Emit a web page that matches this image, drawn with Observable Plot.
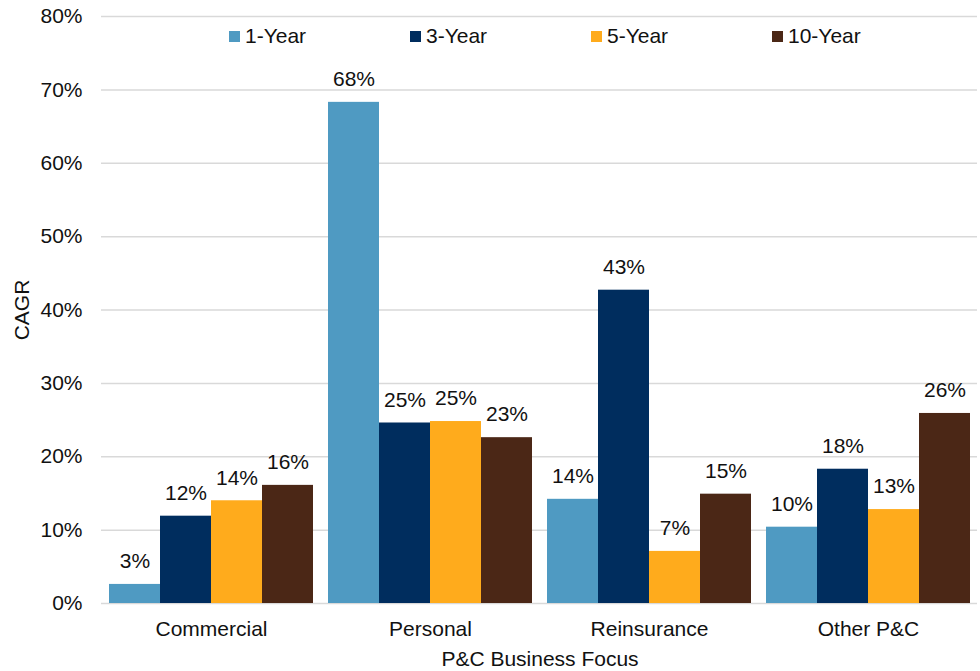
<!DOCTYPE html>
<html><head><meta charset="utf-8">
<script src="https://cdn.jsdelivr.net/npm/d3@7"></script>
<script src="https://cdn.jsdelivr.net/npm/@observablehq/plot@0.6"></script>
<style>
body{margin:0;background:#fff;font-family:"Liberation Sans",Arial,sans-serif;}
#wrap{position:relative;width:980px;height:671px;overflow:hidden;}
#wrap svg{position:absolute;left:0;top:0;overflow:visible;}
#legend{position:absolute;top:24px;left:229px;display:flex;font-size:21px;color:#111;line-height:24px;}
.item{width:181px;display:flex;align-items:center;}
.sw{width:11px;height:11px;margin-right:5px;flex:none;}
</style>
</head><body>
<div id="wrap"><div id="base"></div><div id="bars"></div><div id="legend"></div></div>
<script>
const categories = ["Commercial", "Personal", "Reinsurance", "Other P&C"];
const series = ["1-Year", "3-Year", "5-Year", "10-Year"];
const colors = ["#4F9AC2", "#002D5E", "#FFAB1C", "#4B2716"];
const oneYear = [0.026, 0.683, 0.142, 0.104];
const threeYear = [0.119, 0.246, 0.427, 0.183];
const fiveYear = [0.140, 0.248, 0.071, 0.128];
const tenYear = [0.161, 0.226, 0.149, 0.259];
const yTicks = [0, 0.1, 0.2, 0.3, 0.4, 0.5, 0.6, 0.7, 0.8];

const values = [oneYear, threeYear, fiveYear, tenYear];
const data = [];
categories.forEach((c, i) => series.forEach((s, j) => data.push({cat: c, series: s, value: values[j][i]})));

const common = {width: 980, height: 671, marginTop: 16, marginBottom: 68, marginLeft: 101, marginRight: 3,
  style: {fontFamily: "'Liberation Sans', Arial, sans-serif", background: "transparent", color: "#111"}};
const pct = d3.format(".0%");

const base = Plot.plot({
  ...common,
  y: {domain: [0, 0.8]},
  marks: [
    Plot.gridY(yTicks, {stroke: "#d9d9d9", strokeOpacity: 1, strokeWidth: 1.5}),
    Plot.axisY(yTicks, {tickSize: 0, tickPadding: 19, tickFormat: pct, fontSize: 21,
      label: "CAGR", labelAnchor: "center", labelArrow: "none", labelOffset: 87})
  ]
});
document.getElementById("base").appendChild(base);

const bars = Plot.plot({
  ...common,
  fx: {domain: categories, paddingInner: 0.0685, paddingOuter: 0.034},
  x: {domain: series, padding: 0, axis: null},
  y: {domain: [0, 0.8], axis: null},
  color: {domain: series, range: colors},
  marks: [
    Plot.barY(data, {fx: "cat", x: "series", y: "value", fill: "series"}),
    Plot.text(data, {fx: "cat", x: "series", y: "value", text: d => pct(d.value), dy: -23, fontSize: 21, fill: "#111"}),
    Plot.axisFx({anchor: "bottom", tickSize: 0, tickPadding: 18, fontSize: 21,
      label: "P&C Business Focus", labelAnchor: "center", labelArrow: "none", labelOffset: 62})
  ]
});
document.getElementById("bars").appendChild(bars);

const legend = document.getElementById("legend");
series.forEach((s, j) => {
  const it = document.createElement("div");
  it.className = "item";
  it.innerHTML = `<span class="sw" style="background:${colors[j]}"></span><span>${s}</span>`;
  legend.appendChild(it);
});
</script>
</body></html>
